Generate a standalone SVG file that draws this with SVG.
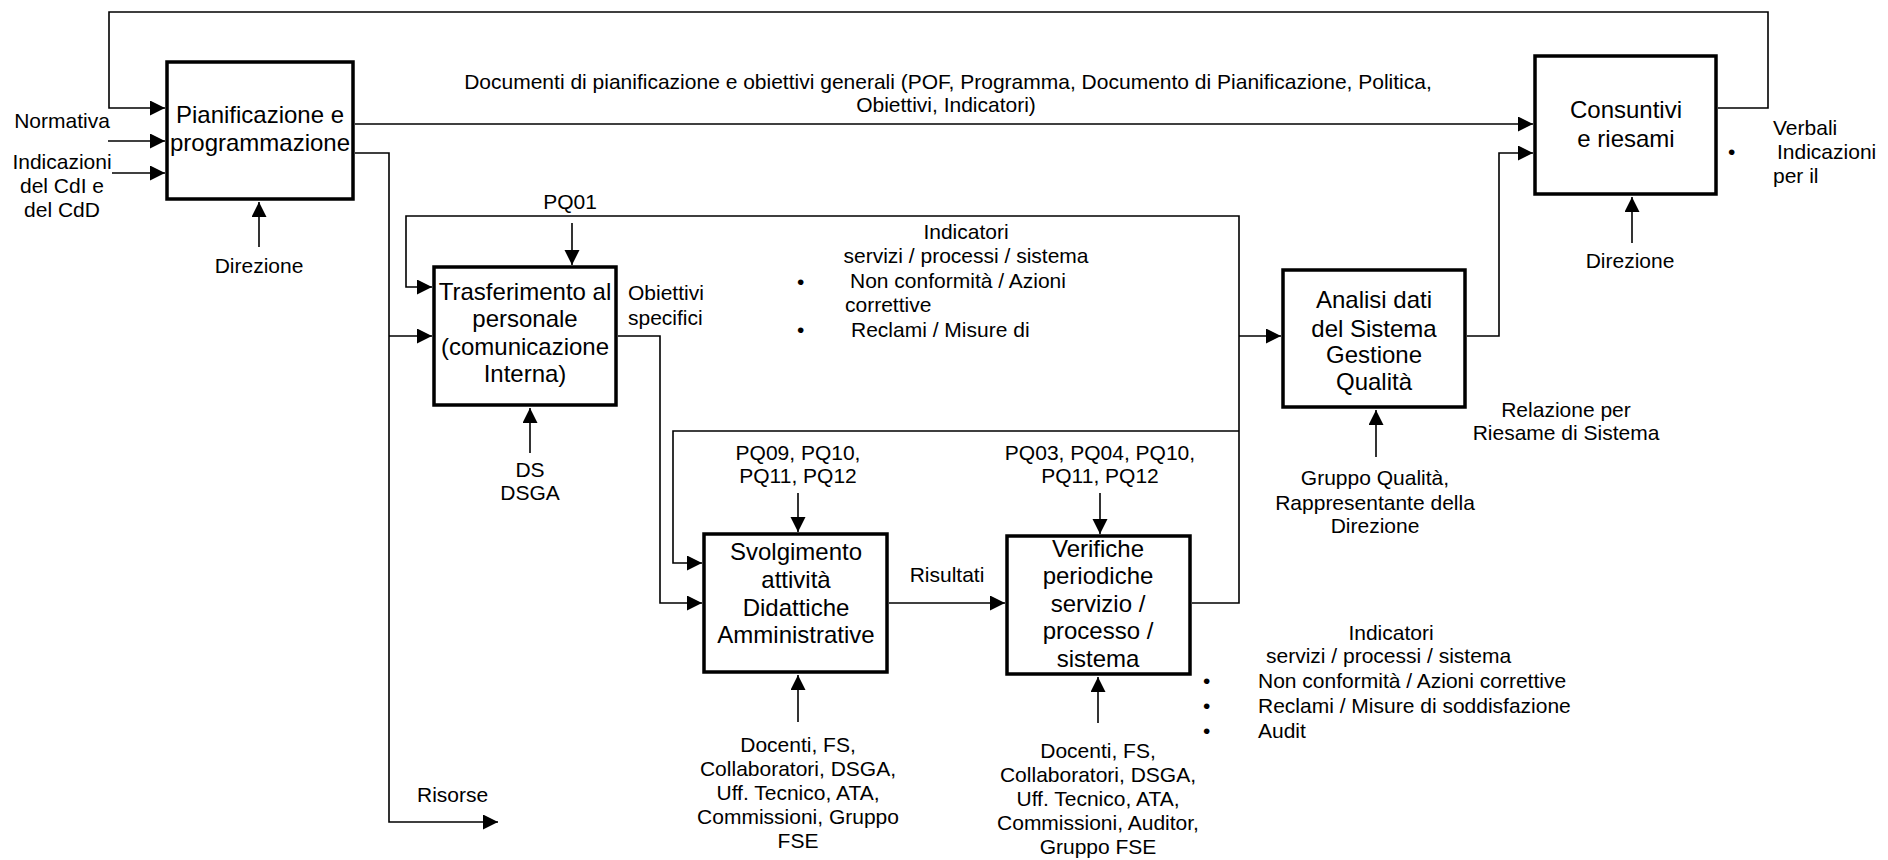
<svg xmlns="http://www.w3.org/2000/svg" width="1888" height="860" viewBox="0 0 1888 860">
  <style>
    text { font-family: "Liberation Sans", Arial, sans-serif; fill: #000; }
    .box { fill: #fff; stroke: #000; stroke-width: 3.5; }
    .bt { font-size: 24px; text-anchor: middle; }
    .lb { font-size: 21px; }
    .c { text-anchor: middle; }
    .wire { fill: none; stroke: #000; stroke-width: 1.6; }
    .arr { marker-end: url(#head); }
  </style>
  <defs>
    <marker id="head" markerUnits="userSpaceOnUse" markerWidth="16" markerHeight="16" refX="15" refY="7.5" orient="auto">
      <path d="M0,0 L15,7.5 L0,15 Z" fill="#000"/>
    </marker>
  </defs>

  <!-- connectors -->
  <g id="connectors">
    <!-- feedback loop from the review back to planning -->
    <path class="wire arr" d="M1718,108 H1768 V12 H109 V108 H165"/>
    <path class="wire arr" d="M108,141 H165"/>
    <path class="wire arr" d="M112,173 H165"/>
    <path class="wire arr" d="M259,247 V202"/>
    <!-- planning documents to review -->
    <path class="wire arr" d="M355,124 H1533"/>
    <!-- planning output down to resources -->
    <path class="wire arr" d="M355,153 H389 V822 H498"/>
    <path class="wire arr" d="M389,336 H432"/>
    <!-- verification feedback loop -->
    <path class="wire arr" d="M1192,603 H1239 V216 H406 V287 H432"/>
    <path class="wire arr" d="M1239,431 H673 V563 H702"/>
    <path class="wire arr" d="M1239,336 H1281"/>
    <path class="wire arr" d="M572,223 V265"/>
    <path class="wire arr" d="M618,336 H660 V603 H702"/>
    <path class="wire arr" d="M530,453 V408"/>
    <path class="wire arr" d="M798,493 V532"/>
    <path class="wire arr" d="M889,603 H1005"/>
    <path class="wire arr" d="M1100,493 V534"/>
    <path class="wire arr" d="M798,722 V675"/>
    <path class="wire arr" d="M1098,723 V677"/>
    <path class="wire arr" d="M1376,457 V410"/>
    <path class="wire arr" d="M1467,336 H1499 V153 H1533"/>
    <path class="wire arr" d="M1632,243 V197"/>
  </g>

  <g id="pianificazione">
    <rect class="box" x="167" y="62" width="186" height="137"/>
    <text class="bt" x="260" y="123">Pianificazione e</text>
    <text class="bt" x="260" y="151">programmazione</text>
  </g>

  <g id="consuntivi">
    <rect class="box" x="1535" y="56" width="181" height="138"/>
    <text class="bt" x="1626" y="118">Consuntivi</text>
    <text class="bt" x="1626" y="147">e riesami</text>
  </g>

  <g id="trasferimento">
    <rect class="box" x="434" y="267" width="182" height="138"/>
    <text class="bt" x="525" y="300">Trasferimento al</text>
    <text class="bt" x="525" y="327">personale</text>
    <text class="bt" x="525" y="355">(comunicazione</text>
    <text class="bt" x="525" y="382">Interna)</text>
  </g>

  <g id="svolgimento">
    <rect class="box" x="704" y="534" width="183" height="138"/>
    <text class="bt" x="796" y="560">Svolgimento</text>
    <text class="bt" x="796" y="588">attività</text>
    <text class="bt" x="796" y="616">Didattiche</text>
    <text class="bt" x="796" y="643">Amministrative</text>
  </g>

  <g id="verifiche">
    <rect class="box" x="1007" y="536" width="183" height="138"/>
    <text class="bt" x="1098" y="557">Verifiche</text>
    <text class="bt" x="1098" y="584">periodiche</text>
    <text class="bt" x="1098" y="612">servizio /</text>
    <text class="bt" x="1098" y="639">processo /</text>
    <text class="bt" x="1098" y="667">sistema</text>
  </g>

  <g id="analisi">
    <rect class="box" x="1283" y="270" width="182" height="137"/>
    <text class="bt" x="1374" y="308">Analisi dati</text>
    <text class="bt" x="1374" y="337">del Sistema</text>
    <text class="bt" x="1374" y="363">Gestione</text>
    <text class="bt" x="1374" y="390">Qualità</text>
  </g>

  <!-- labels -->
  <g id="labels" class="lb">
    <text class="c" x="948" y="89">Documenti di pianificazione e obiettivi generali (POF, Programma, Documento di Pianificazione, Politica,</text>
    <text class="c" x="946" y="112">Obiettivi, Indicatori)</text>

    <text class="c" x="62" y="128">Normativa</text>
    <text class="c" x="62" y="169">Indicazioni</text>
    <text class="c" x="62" y="193">del CdI e</text>
    <text class="c" x="62" y="217">del CdD</text>
    <text class="c" x="259" y="273">Direzione</text>

    <text class="c" x="1630" y="268">Direzione</text>
    <text x="1773" y="135">Verbali</text>
    <text x="1728" y="159">•</text>
    <text x="1777" y="159"> Indicazioni</text>
    <text x="1773" y="183">per il</text>

    <text class="c" x="570" y="209">PQ01</text>
    <text x="628" y="300">Obiettivi</text>
    <text x="628" y="325">specifici</text>
    <text class="c" x="530" y="477">DS</text>
    <text class="c" x="530" y="500">DSGA</text>

    <text class="c" x="966" y="239">Indicatori</text>
    <text class="c" x="966" y="263">servizi / processi / sistema</text>
    <text x="797" y="289">•</text>
    <text x="850" y="288">Non conformità / Azioni</text>
    <text x="845" y="312">correttive</text>
    <text x="797" y="337">•</text>
    <text x="851" y="337">Reclami / Misure di</text>

    <text class="c" x="798" y="460">PQ09, PQ10,</text>
    <text class="c" x="798" y="483">PQ11, PQ12</text>
    <text class="c" x="1100" y="460">PQ03, PQ04, PQ10,</text>
    <text class="c" x="1100" y="483">PQ11, PQ12</text>
    <text class="c" x="947" y="582">Risultati</text>

    <text class="c" x="798" y="752">Docenti, FS,</text>
    <text class="c" x="798" y="776">Collaboratori, DSGA,</text>
    <text class="c" x="798" y="800">Uff. Tecnico, ATA,</text>
    <text class="c" x="798" y="824">Commissioni, Gruppo</text>
    <text class="c" x="798" y="848">FSE</text>

    <text class="c" x="1098" y="758">Docenti, FS,</text>
    <text class="c" x="1098" y="782">Collaboratori, DSGA,</text>
    <text class="c" x="1098" y="806">Uff. Tecnico, ATA,</text>
    <text class="c" x="1098" y="830">Commissioni, Auditor,</text>
    <text class="c" x="1098" y="854">Gruppo FSE</text>

    <text class="c" x="1375" y="485">Gruppo Qualità,</text>
    <text class="c" x="1375" y="510">Rappresentante della</text>
    <text class="c" x="1375" y="533">Direzione</text>
    <text class="c" x="1566" y="417">Relazione per</text>
    <text class="c" x="1566" y="440">Riesame di Sistema</text>

    <text class="c" x="1391" y="640">Indicatori</text>
    <text x="1266" y="663">servizi / processi / sistema</text>
    <text x="1203" y="688">•</text>
    <text x="1258" y="688">Non conformità / Azioni correttive</text>
    <text x="1203" y="713">•</text>
    <text x="1258" y="713">Reclami / Misure di soddisfazione</text>
    <text x="1203" y="738">•</text>
    <text x="1258" y="738">Audit</text>

    <text x="417" y="802">Risorse</text>
  </g>
</svg>
